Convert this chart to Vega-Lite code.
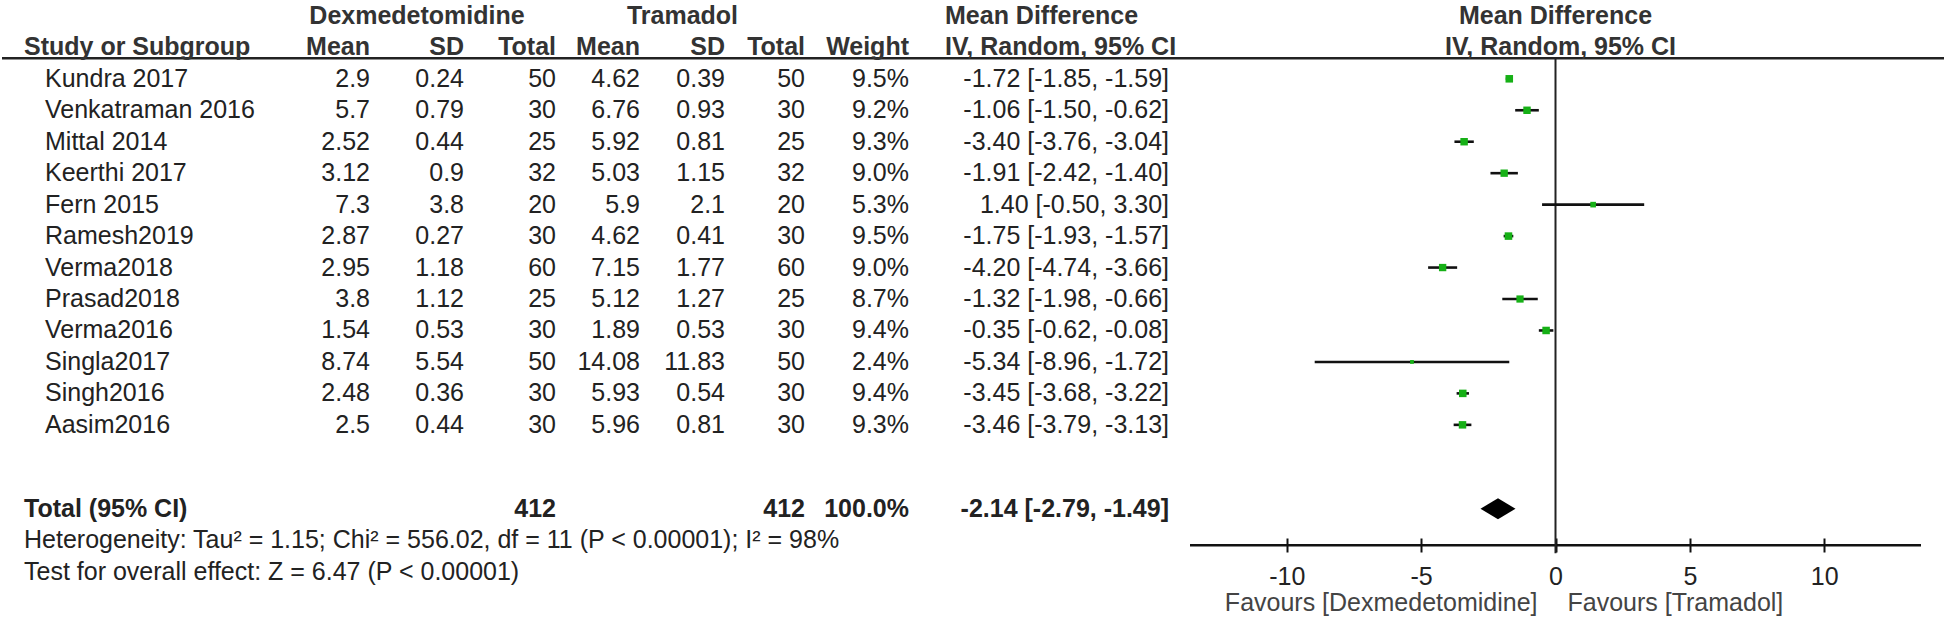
{
  "$schema": "https://vega.github.io/schema/vega-lite/v6.json",
  "padding": 0,
  "background": "white",
  "spacing": 0,
  "bounds": "flush",
  "config": {"view": {"stroke": null}, "text": {"font": "Liberation Sans", "fontSize": 25, "color": "#222"}, "concat": {"spacing": 0}, "scale": {"pointPadding": 0.515}},
  "datasets": {
    "one": [{}],
    "studies": [
      {"study": "Kundra 2017", "m1": 2.9, "sd1": 0.24, "n1": 50, "m2": 4.62, "sd2": 0.39, "n2": 50, "w": "9.5%", "ci": "-1.72 [-1.85, -1.59]", "md": -1.72, "lo": -1.85, "hi": -1.59, "wt": 9.5},
      {"study": "Venkatraman 2016", "m1": 5.7, "sd1": 0.79, "n1": 30, "m2": 6.76, "sd2": 0.93, "n2": 30, "w": "9.2%", "ci": "-1.06 [-1.50, -0.62]", "md": -1.06, "lo": -1.5, "hi": -0.62, "wt": 9.2},
      {"study": "Mittal 2014", "m1": 2.52, "sd1": 0.44, "n1": 25, "m2": 5.92, "sd2": 0.81, "n2": 25, "w": "9.3%", "ci": "-3.40 [-3.76, -3.04]", "md": -3.4, "lo": -3.76, "hi": -3.04, "wt": 9.3},
      {"study": "Keerthi 2017", "m1": 3.12, "sd1": 0.9, "n1": 32, "m2": 5.03, "sd2": 1.15, "n2": 32, "w": "9.0%", "ci": "-1.91 [-2.42, -1.40]", "md": -1.91, "lo": -2.42, "hi": -1.4, "wt": 9.0},
      {"study": "Fern 2015", "m1": 7.3, "sd1": 3.8, "n1": 20, "m2": 5.9, "sd2": 2.1, "n2": 20, "w": "5.3%", "ci": "1.40 [-0.50, 3.30]", "md": 1.4, "lo": -0.5, "hi": 3.3, "wt": 5.3},
      {"study": "Ramesh2019", "m1": 2.87, "sd1": 0.27, "n1": 30, "m2": 4.62, "sd2": 0.41, "n2": 30, "w": "9.5%", "ci": "-1.75 [-1.93, -1.57]", "md": -1.75, "lo": -1.93, "hi": -1.57, "wt": 9.5},
      {"study": "Verma2018", "m1": 2.95, "sd1": 1.18, "n1": 60, "m2": 7.15, "sd2": 1.77, "n2": 60, "w": "9.0%", "ci": "-4.20 [-4.74, -3.66]", "md": -4.2, "lo": -4.74, "hi": -3.66, "wt": 9.0},
      {"study": "Prasad2018", "m1": 3.8, "sd1": 1.12, "n1": 25, "m2": 5.12, "sd2": 1.27, "n2": 25, "w": "8.7%", "ci": "-1.32 [-1.98, -0.66]", "md": -1.32, "lo": -1.98, "hi": -0.66, "wt": 8.7},
      {"study": "Verma2016", "m1": 1.54, "sd1": 0.53, "n1": 30, "m2": 1.89, "sd2": 0.53, "n2": 30, "w": "9.4%", "ci": "-0.35 [-0.62, -0.08]", "md": -0.35, "lo": -0.62, "hi": -0.08, "wt": 9.4},
      {"study": "Singla2017", "m1": 8.74, "sd1": 5.54, "n1": 50, "m2": 14.08, "sd2": 11.83, "n2": 50, "w": "2.4%", "ci": "-5.34 [-8.96, -1.72]", "md": -5.34, "lo": -8.96, "hi": -1.72, "wt": 2.4},
      {"study": "Singh2016", "m1": 2.48, "sd1": 0.36, "n1": 30, "m2": 5.93, "sd2": 0.54, "n2": 30, "w": "9.4%", "ci": "-3.45 [-3.68, -3.22]", "md": -3.45, "lo": -3.68, "hi": -3.22, "wt": 9.4},
      {"study": "Aasim2016", "m1": 2.5, "sd1": 0.44, "n1": 30, "m2": 5.96, "sd2": 0.81, "n2": 30, "w": "9.3%", "ci": "-3.46 [-3.79, -3.13]", "md": -3.46, "lo": -3.79, "hi": -3.13, "wt": 9.3}
    ],
    "total": [
      {"study": "Total (95% CI)", "n1": 412, "n2": 412, "w": "100.0%", "ci": "-2.14 [-2.79, -1.49]", "md": -2.14, "lo": -2.79, "hi": -1.49,
       "het": "Heterogeneity: Tau² = 1.15; Chi² = 556.02, df = 11 (P < 0.00001); I² = 98%",
       "test": "Test for overall effect: Z = 6.47 (P < 0.00001)"}
    ]
  },
  "hconcat": [
    {"width": 368, "height": 619, "layer": [
      {"data": {"name": "one"}, "mark": {"type": "rule", "strokeWidth": 2.5, "color": "#222", "yOffset": 11}, "encoding": {"x": {"value": 0}, "x2": {"value": "width"}, "y": {"datum": "h2", "type": "nominal", "axis": null, "scale": {"type": "point", "padding": 0.515, "domain": ["t0","h1","b1","b2","h2","b4","b5","Kundra 2017","b7","b8","Venkatraman 2016","b10","b11","Mittal 2014","b13","b14","Keerthi 2017","b16","b17","Fern 2015","b19","b20","Ramesh2019","b22","b23","Verma2018","b25","b26","Prasad2018","b28","b29","Verma2016","b31","b32","Singla2017","b34","b35","Singh2016","b37","b38","Aasim2016","b40","b41","b42","b43","b44","b45","b46","Total (95% CI)","b48","b49","het","b51","b52","test","b54","b55","fav","z"]}}}},
      {"data": {"name": "one"}, "mark": {"type": "text", "fontWeight": "bold", "align": "left", "dx": 22, "color": "#333"}, "encoding": {"x": {"value": 0}, "y": {"datum": "h2", "type": "nominal", "axis": null}, "text": {"value": "Study or Subgroup"}}},
      {"data": {"name": "studies"}, "mark": {"type": "text", "align": "left", "dx": 43}, "encoding": {"x": {"value": 0}, "y": {"field": "study", "type": "nominal", "axis": null}, "text": {"field": "study", "type": "nominal"}}},
      {"data": {"name": "one"}, "mark": {"type": "text", "fontWeight": "bold", "align": "right", "color": "#333"}, "encoding": {"x": {"value": "width"}, "y": {"datum": "h2", "type": "nominal", "axis": null}, "text": {"value": "Mean"}}},
      {"data": {"name": "studies"}, "mark": {"type": "text", "align": "right"}, "encoding": {"x": {"value": "width"}, "y": {"field": "study", "type": "nominal", "axis": null}, "text": {"field": "m1", "type": "nominal"}}},
      {"data": {"name": "total"}, "mark": {"type": "text", "fontWeight": "bold", "align": "left", "dx": 22}, "encoding": {"x": {"value": 0}, "y": {"field": "study", "type": "nominal", "axis": null}, "text": {"field": "study", "type": "nominal"}}},
      {"data": {"name": "total"}, "mark": {"type": "text", "align": "left", "dx": 22}, "encoding": {"x": {"value": 0}, "y": {"datum": "het", "type": "nominal", "axis": null}, "text": {"field": "het", "type": "nominal"}}},
      {"data": {"name": "total"}, "mark": {"type": "text", "align": "left", "dx": 22}, "encoding": {"x": {"value": 0}, "y": {"datum": "test", "type": "nominal", "axis": null}, "text": {"field": "test", "type": "nominal"}}}
    ]},
    {"width": 94, "height": 619, "layer": [
      {"data": {"name": "one"}, "mark": {"type": "rule", "strokeWidth": 2.5, "color": "#222", "yOffset": 11}, "encoding": {"x": {"value": 0}, "x2": {"value": "width"}, "y": {"datum": "h2", "type": "nominal", "axis": null, "scale": {"type": "point", "padding": 0.515, "domain": ["t0","h1","b1","b2","h2","b4","b5","Kundra 2017","b7","b8","Venkatraman 2016","b10","b11","Mittal 2014","b13","b14","Keerthi 2017","b16","b17","Fern 2015","b19","b20","Ramesh2019","b22","b23","Verma2018","b25","b26","Prasad2018","b28","b29","Verma2016","b31","b32","Singla2017","b34","b35","Singh2016","b37","b38","Aasim2016","b40","b41","b42","b43","b44","b45","b46","Total (95% CI)","b48","b49","het","b51","b52","test","b54","b55","fav","z"]}}}},
      {"data": {"name": "one"}, "mark": {"type": "text", "fontWeight": "bold", "align": "center", "color": "#333"}, "encoding": {"y": {"datum": "h1", "type": "nominal", "axis": null}, "text": {"value": "Dexmedetomidine"}}},
      {"data": {"name": "one"}, "mark": {"type": "text", "fontWeight": "bold", "align": "right", "color": "#333"}, "encoding": {"x": {"value": "width"}, "y": {"datum": "h2", "type": "nominal", "axis": null}, "text": {"value": "SD"}}},
      {"data": {"name": "studies"}, "mark": {"type": "text", "align": "right"}, "encoding": {"x": {"value": "width"}, "y": {"field": "study", "type": "nominal", "axis": null}, "text": {"field": "sd1", "type": "nominal"}}}
    ]},
    {"width": 92, "height": 619, "layer": [
      {"data": {"name": "one"}, "mark": {"type": "rule", "strokeWidth": 2.5, "color": "#222", "yOffset": 11}, "encoding": {"x": {"value": 0}, "x2": {"value": "width"}, "y": {"datum": "h2", "type": "nominal", "axis": null, "scale": {"type": "point", "padding": 0.515, "domain": ["t0","h1","b1","b2","h2","b4","b5","Kundra 2017","b7","b8","Venkatraman 2016","b10","b11","Mittal 2014","b13","b14","Keerthi 2017","b16","b17","Fern 2015","b19","b20","Ramesh2019","b22","b23","Verma2018","b25","b26","Prasad2018","b28","b29","Verma2016","b31","b32","Singla2017","b34","b35","Singh2016","b37","b38","Aasim2016","b40","b41","b42","b43","b44","b45","b46","Total (95% CI)","b48","b49","het","b51","b52","test","b54","b55","fav","z"]}}}},
      {"data": {"name": "one"}, "mark": {"type": "text", "fontWeight": "bold", "align": "right", "color": "#333"}, "encoding": {"x": {"value": "width"}, "y": {"datum": "h2", "type": "nominal", "axis": null}, "text": {"value": "Total"}}},
      {"data": {"name": "studies"}, "mark": {"type": "text", "align": "right"}, "encoding": {"x": {"value": "width"}, "y": {"field": "study", "type": "nominal", "axis": null}, "text": {"field": "n1", "type": "nominal"}}},
      {"data": {"name": "total"}, "mark": {"type": "text", "fontWeight": "bold", "align": "right"}, "encoding": {"x": {"value": "width"}, "y": {"field": "study", "type": "nominal", "axis": null}, "text": {"field": "n1", "type": "nominal"}}}
    ]},
    {"width": 84, "height": 619, "layer": [
      {"data": {"name": "one"}, "mark": {"type": "rule", "strokeWidth": 2.5, "color": "#222", "yOffset": 11}, "encoding": {"x": {"value": 0}, "x2": {"value": "width"}, "y": {"datum": "h2", "type": "nominal", "axis": null, "scale": {"type": "point", "padding": 0.515, "domain": ["t0","h1","b1","b2","h2","b4","b5","Kundra 2017","b7","b8","Venkatraman 2016","b10","b11","Mittal 2014","b13","b14","Keerthi 2017","b16","b17","Fern 2015","b19","b20","Ramesh2019","b22","b23","Verma2018","b25","b26","Prasad2018","b28","b29","Verma2016","b31","b32","Singla2017","b34","b35","Singh2016","b37","b38","Aasim2016","b40","b41","b42","b43","b44","b45","b46","Total (95% CI)","b48","b49","het","b51","b52","test","b54","b55","fav","z"]}}}},
      {"data": {"name": "one"}, "mark": {"type": "text", "fontWeight": "bold", "align": "right", "color": "#333"}, "encoding": {"x": {"value": "width"}, "y": {"datum": "h2", "type": "nominal", "axis": null}, "text": {"value": "Mean"}}},
      {"data": {"name": "studies"}, "mark": {"type": "text", "align": "right"}, "encoding": {"x": {"value": "width"}, "y": {"field": "study", "type": "nominal", "axis": null}, "text": {"field": "m2", "type": "nominal"}}}
    ]},
    {"width": 85, "height": 619, "layer": [
      {"data": {"name": "one"}, "mark": {"type": "rule", "strokeWidth": 2.5, "color": "#222", "yOffset": 11}, "encoding": {"x": {"value": 0}, "x2": {"value": "width"}, "y": {"datum": "h2", "type": "nominal", "axis": null, "scale": {"type": "point", "padding": 0.515, "domain": ["t0","h1","b1","b2","h2","b4","b5","Kundra 2017","b7","b8","Venkatraman 2016","b10","b11","Mittal 2014","b13","b14","Keerthi 2017","b16","b17","Fern 2015","b19","b20","Ramesh2019","b22","b23","Verma2018","b25","b26","Prasad2018","b28","b29","Verma2016","b31","b32","Singla2017","b34","b35","Singh2016","b37","b38","Aasim2016","b40","b41","b42","b43","b44","b45","b46","Total (95% CI)","b48","b49","het","b51","b52","test","b54","b55","fav","z"]}}}},
      {"data": {"name": "one"}, "mark": {"type": "text", "fontWeight": "bold", "align": "center", "color": "#333"}, "encoding": {"y": {"datum": "h1", "type": "nominal", "axis": null}, "text": {"value": "Tramadol"}}},
      {"data": {"name": "one"}, "mark": {"type": "text", "fontWeight": "bold", "align": "right", "color": "#333"}, "encoding": {"x": {"value": "width"}, "y": {"datum": "h2", "type": "nominal", "axis": null}, "text": {"value": "SD"}}},
      {"data": {"name": "studies"}, "mark": {"type": "text", "align": "right"}, "encoding": {"x": {"value": "width"}, "y": {"field": "study", "type": "nominal", "axis": null}, "text": {"field": "sd2", "type": "nominal"}}}
    ]},
    {"width": 80, "height": 619, "layer": [
      {"data": {"name": "one"}, "mark": {"type": "rule", "strokeWidth": 2.5, "color": "#222", "yOffset": 11}, "encoding": {"x": {"value": 0}, "x2": {"value": "width"}, "y": {"datum": "h2", "type": "nominal", "axis": null, "scale": {"type": "point", "padding": 0.515, "domain": ["t0","h1","b1","b2","h2","b4","b5","Kundra 2017","b7","b8","Venkatraman 2016","b10","b11","Mittal 2014","b13","b14","Keerthi 2017","b16","b17","Fern 2015","b19","b20","Ramesh2019","b22","b23","Verma2018","b25","b26","Prasad2018","b28","b29","Verma2016","b31","b32","Singla2017","b34","b35","Singh2016","b37","b38","Aasim2016","b40","b41","b42","b43","b44","b45","b46","Total (95% CI)","b48","b49","het","b51","b52","test","b54","b55","fav","z"]}}}},
      {"data": {"name": "one"}, "mark": {"type": "text", "fontWeight": "bold", "align": "right", "color": "#333"}, "encoding": {"x": {"value": "width"}, "y": {"datum": "h2", "type": "nominal", "axis": null}, "text": {"value": "Total"}}},
      {"data": {"name": "studies"}, "mark": {"type": "text", "align": "right"}, "encoding": {"x": {"value": "width"}, "y": {"field": "study", "type": "nominal", "axis": null}, "text": {"field": "n2", "type": "nominal"}}},
      {"data": {"name": "total"}, "mark": {"type": "text", "fontWeight": "bold", "align": "right"}, "encoding": {"x": {"value": "width"}, "y": {"field": "study", "type": "nominal", "axis": null}, "text": {"field": "n2", "type": "nominal"}}}
    ]},
    {"width": 104, "height": 619, "layer": [
      {"data": {"name": "one"}, "mark": {"type": "rule", "strokeWidth": 2.5, "color": "#222", "yOffset": 11}, "encoding": {"x": {"value": 0}, "x2": {"value": "width"}, "y": {"datum": "h2", "type": "nominal", "axis": null, "scale": {"type": "point", "padding": 0.515, "domain": ["t0","h1","b1","b2","h2","b4","b5","Kundra 2017","b7","b8","Venkatraman 2016","b10","b11","Mittal 2014","b13","b14","Keerthi 2017","b16","b17","Fern 2015","b19","b20","Ramesh2019","b22","b23","Verma2018","b25","b26","Prasad2018","b28","b29","Verma2016","b31","b32","Singla2017","b34","b35","Singh2016","b37","b38","Aasim2016","b40","b41","b42","b43","b44","b45","b46","Total (95% CI)","b48","b49","het","b51","b52","test","b54","b55","fav","z"]}}}},
      {"data": {"name": "one"}, "mark": {"type": "text", "fontWeight": "bold", "align": "right", "color": "#333"}, "encoding": {"x": {"value": "width"}, "y": {"datum": "h2", "type": "nominal", "axis": null}, "text": {"value": "Weight"}}},
      {"data": {"name": "studies"}, "mark": {"type": "text", "align": "right"}, "encoding": {"x": {"value": "width"}, "y": {"field": "study", "type": "nominal", "axis": null}, "text": {"field": "w", "type": "nominal"}}},
      {"data": {"name": "total"}, "mark": {"type": "text", "fontWeight": "bold", "align": "right"}, "encoding": {"x": {"value": "width"}, "y": {"field": "study", "type": "nominal", "axis": null}, "text": {"field": "w", "type": "nominal"}}}
    ]},
    {"width": 281, "height": 619, "layer": [
      {"data": {"name": "one"}, "mark": {"type": "rule", "strokeWidth": 2.5, "color": "#222", "yOffset": 11}, "encoding": {"x": {"value": 0}, "x2": {"value": "width"}, "y": {"datum": "h2", "type": "nominal", "axis": null, "scale": {"type": "point", "padding": 0.515, "domain": ["t0","h1","b1","b2","h2","b4","b5","Kundra 2017","b7","b8","Venkatraman 2016","b10","b11","Mittal 2014","b13","b14","Keerthi 2017","b16","b17","Fern 2015","b19","b20","Ramesh2019","b22","b23","Verma2018","b25","b26","Prasad2018","b28","b29","Verma2016","b31","b32","Singla2017","b34","b35","Singh2016","b37","b38","Aasim2016","b40","b41","b42","b43","b44","b45","b46","Total (95% CI)","b48","b49","het","b51","b52","test","b54","b55","fav","z"]}}}},
      {"data": {"name": "one"}, "mark": {"type": "text", "fontWeight": "bold", "align": "left", "dx": 36, "color": "#333"}, "encoding": {"x": {"value": 0}, "y": {"datum": "h1", "type": "nominal", "axis": null}, "text": {"value": "Mean Difference"}}},
      {"data": {"name": "one"}, "mark": {"type": "text", "fontWeight": "bold", "align": "left", "dx": 36, "color": "#333"}, "encoding": {"x": {"value": 0}, "y": {"datum": "h2", "type": "nominal", "axis": null}, "text": {"value": "IV, Random, 95% CI"}}},
      {"data": {"name": "studies"}, "mark": {"type": "text", "align": "right", "dx": -21}, "encoding": {"x": {"value": "width"}, "y": {"field": "study", "type": "nominal", "axis": null}, "text": {"field": "ci", "type": "nominal"}}},
      {"data": {"name": "total"}, "mark": {"type": "text", "fontWeight": "bold", "align": "right", "dx": -21}, "encoding": {"x": {"value": "width"}, "y": {"field": "study", "type": "nominal", "axis": null}, "text": {"field": "ci", "type": "nominal"}}}
    ]},
    {"width": 731, "height": 619, "resolve": {"axis": {"x": "independent"}}, "layer": [
      {"data": {"name": "one"}, "mark": {"type": "rule", "strokeWidth": 2.5, "color": "#222", "yOffset": 11, "x2Offset": 23}, "encoding": {"x": {"value": 0}, "x2": {"value": "width"}, "y": {"datum": "h2", "type": "nominal", "axis": null, "scale": {"type": "point", "padding": 0.515, "domain": ["t0","h1","b1","b2","h2","b4","b5","Kundra 2017","b7","b8","Venkatraman 2016","b10","b11","Mittal 2014","b13","b14","Keerthi 2017","b16","b17","Fern 2015","b19","b20","Ramesh2019","b22","b23","Verma2018","b25","b26","Prasad2018","b28","b29","Verma2016","b31","b32","Singla2017","b34","b35","Singh2016","b37","b38","Aasim2016","b40","b41","b42","b43","b44","b45","b46","Total (95% CI)","b48","b49","het","b51","b52","test","b54","b55","fav","z"]}}}},
      {"data": {"name": "one"}, "mark": {"type": "rule", "strokeWidth": 2.5, "color": "#111", "yOffset": 5}, "encoding": {"x": {"value": 0}, "x2": {"value": "width"}, "y": {"datum": "het", "type": "nominal", "axis": null}}},
      {"data": {"name": "one"}, "mark": {"type": "rule", "strokeWidth": 2, "color": "#222", "yOffset": 11, "y2Offset": 13}, "encoding": {"x": {"datum": 0, "type": "quantitative", "axis": null, "scale": {"domain": [-13.6, 13.6], "nice": false, "zero": false}}, "y": {"datum": "h2", "type": "nominal", "axis": null}, "y2": {"datum": "het"}}},
      {"data": {"name": "studies"}, "mark": {"type": "rule", "strokeWidth": 2.6, "color": "#111"}, "encoding": {"x": {"field": "lo", "type": "quantitative", "scale": {"domain": [-13.6, 13.6], "nice": false, "zero": false}, "axis": {"orient": "bottom", "offset": -81, "values": [-10, -5, 0, 5, 10], "labelExpr": "'' + datum.value", "tickSize": 14, "tickWidth": 2, "tickColor": "#111", "domain": false, "labelFont": "Liberation Sans", "labelFontSize": 25, "labelColor": "#222", "labelPadding": 12, "grid": false, "title": null}}, "x2": {"field": "hi"}, "y": {"field": "study", "type": "nominal", "axis": null}}},
      {"data": {"name": "studies"}, "mark": {"type": "square", "color": "#16b016", "opacity": 1, "strokeWidth": 0}, "encoding": {"x": {"field": "md", "type": "quantitative", "scale": {"domain": [-13.6, 13.6], "nice": false, "zero": false}, "axis": null}, "y": {"field": "study", "type": "nominal", "axis": null}, "size": {"field": "wt", "type": "quantitative", "scale": {"domain": [0, 10], "range": [0, 60]}, "legend": null}}},
      {"data": {"name": "total"}, "mark": {"type": "point", "shape": "M-1,0L0,-0.6L1,0L0,0.6Z", "filled": true, "color": "#000", "opacity": 1, "size": 1225, "strokeWidth": 0}, "encoding": {"x": {"field": "md", "type": "quantitative", "axis": null, "scale": {"domain": [-13.6, 13.6], "nice": false, "zero": false}}, "y": {"field": "study", "type": "nominal", "axis": null}}},
      {"data": {"name": "one"}, "mark": {"type": "text", "align": "right", "dx": -18, "color": "#444"}, "encoding": {"x": {"datum": 0, "type": "quantitative", "axis": null, "scale": {"domain": [-13.6, 13.6], "nice": false, "zero": false}}, "y": {"datum": "fav", "type": "nominal", "axis": null}, "text": {"value": "Favours [Dexmedetomidine]"}}},
      {"data": {"name": "one"}, "mark": {"type": "text", "align": "left", "dx": 12, "color": "#444"}, "encoding": {"x": {"datum": 0, "type": "quantitative", "axis": null, "scale": {"domain": [-13.6, 13.6], "nice": false, "zero": false}}, "y": {"datum": "fav", "type": "nominal", "axis": null}, "text": {"value": "Favours [Tramadol]"}}},
      {"data": {"name": "one"}, "mark": {"type": "text", "fontWeight": "bold", "align": "center", "color": "#333"}, "encoding": {"y": {"datum": "h1", "type": "nominal", "axis": null}, "text": {"value": "Mean Difference"}}},
      {"data": {"name": "one"}, "mark": {"type": "text", "fontWeight": "bold", "align": "center", "color": "#333", "dx": 5}, "encoding": {"y": {"datum": "h2", "type": "nominal", "axis": null}, "text": {"value": "IV, Random, 95% CI"}}}
    ]}
  ]
}
